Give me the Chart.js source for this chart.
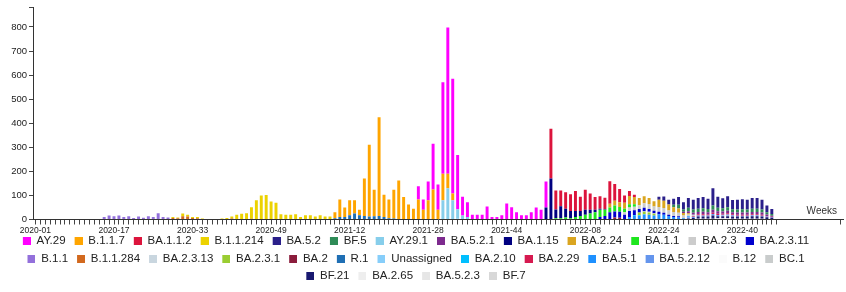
<!DOCTYPE html>
<html>
<head>
<meta charset="utf-8">
<script src="https://cdn.jsdelivr.net/npm/chart.js@4.4.1/dist/chart.umd.min.js"></script>
<style>
  html, body { margin: 0; padding: 0; background: #fff; }
</style>
</head>
<body>
<canvas id="lineageChart" width="846" height="292"></canvas>
<script>
// x axis: ISO weeks, 2022 stops at week 47, then some empty room on the right
const years = [2020, 2021, 2022];
const weeksInYear = [53, 52, 47];
const blankWeeks = 13;

const labels = [];
years.forEach((y, k) => {
    for (let w = 1; w <= weeksInYear[k]; w++) labels.push(y + '-' + String(w).padStart(2, '0'));
});
const realWeeks = labels.length;
for (let k = 0; k < blankWeeks; k++) labels.push('');

// weekly counts, given as (first week index, counts...)
const pad = (from, counts) => labels.map((_, i) => (i >= from && i < from + counts.length) ? counts[i - from] : 0);

const ay29     = pad(78, [55, 43, 78, 190, 105, 380, 608, 477, 225, 78, 62, 20, 20, 20, 54, 10, 10, 18, 66, 51, 30, 18, 18, 30, 50, 40, 108]);
const b117     = pad(61, [25, 73, 40, 62, 55, 22, 155, 299, 110, 410, 93, 78, 120, 162, 93, 62, 45, 83, 40, 80, 125, 40, 110, 60, 28]);
const ba112    = pad(105, [207, 78, 65, 68, 70, 83, 60, 84, 68, 53, 52, 47, 94, 70, 55, 30, 20, 10]);
const b11214   = pad(28, [4, 3, 11, 8, 4, 5, 2, 0, 0, 2, 4, 6, 8, 18, 22, 24, 48, 80, 100, 102, 75, 70, 22, 20, 20, 22, 10, 18, 18, 12, 18, 12, 12]);
const ba52     = pad(127, [13, 18, 20, 25, 32, 30, 40, 40, 44, 46, 42, 72, 46, 41, 46, 38, 40, 41, 40, 44, 44, 40, 28, 21]);
const bf5      = pad(130, [10, 15, 10, 15, 14, 14, 15, 14, 18, 15, 14, 15, 13, 13, 14, 13, 14, 14, 13, 9, 7]);
const ay291    = pad(83, [80, 130, 80, 40, 15, 10]);
const ba521    = pad(132, [5, 8, 8, 9, 10, 9, 12, 10, 9, 10, 8, 9, 9, 9, 9, 9, 9, 6, 5]);
const ba115    = pad(104, [50, 170, 37, 50, 37, 30, 25, 20, 20, 15, 10, 5, 3]);
const ba224    = pad(117, [15, 20, 20, 25, 35, 30, 30, 30, 25, 22, 30, 30, 25, 20, 18, 10, 5]);
const ba11     = pad(106, [5, 5, 8, 5, 10, 15, 20, 25, 30, 30, 25, 20, 25, 20, 15, 13, 10]);
const ba23     = pad(120, [10, 15, 15, 15, 18, 20, 18, 20, 20, 17, 16, 15, 12, 8, 5]);
const ba2311   = pad(115, [10, 15, 30, 25, 25, 20, 25, 20, 15, 15, 12, 10, 10, 8, 5, 5, 5]);
const b11      = pad(14, [10, 17, 14, 17, 10, 14, 4, 10, 7, 14, 10, 26, 10, 8]);
const b11284   = pad(28, [6, 5, 14, 12, 6, 5, 2, 0, 0, 0, 0, 0, 4, 2, 2, 2, 3]);
const ba2313   = pad(124, [2, 3, 2]);
const ba231    = pad(123, [11, 10, 9, 7]);
const ba2      = pad(118, [8, 7]);
const r1       = pad(61, [5, 10, 10, 18, 25, 18, 15, 12, 14, 15, 10, 5, 4]);
const unassigned = pad(86, [3, 2]);
const ba210    = pad(122, [3, 3, 2]);
const ba229    = pad(134, [4, 5, 5, 4, 5, 5, 4, 5, 4, 4, 4, 4, 4, 4, 4, 3, 2]);
const ba51     = pad(121, [10, 15, 15, 20, 20, 15, 20, 20, 15, 10, 8, 5, 4]);
const ba5212   = pad(133, [5, 5, 5, 5, 5, 6, 5, 4, 5, 4, 4, 4, 4, 5, 5, 4, 3, 2]);
const b12      = pad(20, [2, 2]);
const bc1      = pad(140, [2, 2, 2]);
const bf21     = pad(133, [4, 6, 9, 9, 9, 14, 9, 9, 9, 9, 9, 9, 9, 10, 10, 9, 7, 5]);
const ba265    = pad(126, [2, 2]);
const ba523    = pad(139, [2, 2, 2]);
const bf7      = pad(135, [3, 3, 3, 3, 3, 3, 3, 3, 3, 3, 3, 3, 3, 3, 2, 2]);

const lineages = ['AY.29', 'B.1.1.7', 'BA.1.1.2', 'B.1.1.214', 'BA.5.2', 'BF.5', 'AY.29.1', 'BA.5.2.1', 'BA.1.15',
    'BA.2.24', 'BA.1.1', 'BA.2.3', 'BA.2.3.11', 'B.1.1', 'B.1.1.284', 'BA.2.3.13', 'BA.2.3.1', 'BA.2', 'R.1',
    'Unassigned', 'BA.2.10', 'BA.2.29', 'BA.5.1', 'BA.5.2.12', 'B.12', 'BC.1', 'BF.21', 'BA.2.65', 'BA.5.2.3', 'BF.7'];
const counts = [ay29, b117, ba112, b11214, ba52, bf5, ay291, ba521, ba115, ba224, ba11, ba23, ba2311, b11, b11284,
    ba2313, ba231, ba2, r1, unassigned, ba210, ba229, ba51, ba5212, b12, bc1, bf21, ba265, ba523, bf7];
const colors = ['#ff00ff', '#ffa500', '#dc143c', '#ecd200', '#2a1f8a', '#2e8b57', '#87ceeb', '#7d2a8e', '#000080',
    '#daa520', '#1ee61e', '#cccccc', '#0000cd', '#9370db', '#d2691e', '#c9d6df', '#9acd32', '#8b1c3c', '#1f6fb4',
    '#87cefa', '#00bfff', '#d61a50', '#1e90ff', '#6495ed', '#fbfbfb', '#c9cccc', '#191970', '#eeeeee', '#e6e6e6', '#d8d8d8'];

// small square legend swatch, sitting at the right of its slot
function swatch(color) {
    const c = document.createElement('canvas');
    c.width = 11; c.height = 8;
    const g = c.getContext('2d');
    g.fillStyle = color;
    g.fillRect(3, 0, 8, 8);
    return c;
}
const swatches = colors.map(swatch);

// the week labels hang a little into the legend band, so widen the x box after layout
// and nudge the legend a bit to the left
const layoutTweaks = {
    id: 'layoutTweaks',
    afterLayout(chart) {
        const x = chart.scales.x;
        x.bottom += 10;
        x.height += 10;
        chart.legend.left -= 7;
        chart.legend.right -= 7;
    }
};

const weeksLabel = {
    id: 'weeksLabel',
    afterDraw(chart) {
        const { ctx, chartArea } = chart;
        ctx.save();
        ctx.font = '10px "Liberation Sans", Arial, sans-serif';
        ctx.fillStyle = '#333';
        ctx.textAlign = 'right';
        ctx.textBaseline = 'bottom';
        ctx.fillText('Weeks', chartArea.right - 6, chartArea.bottom - 3);
        ctx.restore();
    }
};

Chart.defaults.font.family = '"Liberation Sans", Arial, sans-serif';

const ctx = document.getElementById('lineageChart').getContext('2d');
const lineageChart = new Chart(ctx, {
    type: 'bar',
    data: {
        labels: labels,
        datasets: lineages.map((name, i) => ({
            label: name,
            data: counts[i],
            backgroundColor: colors[i],
            borderWidth: 0,
            order: lineages.length - i,
            barPercentage: 0.6,
            categoryPercentage: 1.0
        }))
    },
    options: {
        responsive: false,
        animation: false,
        layout: { padding: { top: 7, right: 3, left: 0, bottom: 0 } },
        plugins: {
            tooltip: { enabled: false },
            legend: {
                position: 'bottom',
                labels: {
                    usePointStyle: true,
                    pointStyleWidth: 11,
                    padding: 6,
                    color: '#222',
                    font: { size: 11.5 },
                    sort: (a, b) => a.datasetIndex - b.datasetIndex,
                    generateLabels(chart) {
                        const items = Chart.defaults.plugins.legend.labels.generateLabels(chart);
                        items.forEach(it => { it.pointStyle = swatches[it.datasetIndex]; it.lineWidth = 0; });
                        return items;
                    }
                }
            }
        },
        scales: {
            x: {
                stacked: true,
                offset: true,
                border: { color: '#333' },
                grid: {
                    drawOnChartArea: false,
                    offset: false,
                    tickLength: 5,
                    color: c => (c.index < realWeeks || c.index === labels.length - 1) ? '#444' : 'rgba(0,0,0,0)'
                },
                ticks: {
                    autoSkip: false,
                    maxRotation: 0,
                    minRotation: 0,
                    padding: 1,
                    color: '#222',
                    font: { size: 8.5 },
                    callback: (v, i) => (i < realWeeks && i % 16 === 0) ? labels[i] : ''
                },
                afterFit: s => { s.height = 10; }
            },
            y: {
                stacked: true,
                min: 0,
                max: 880,
                border: { color: '#333' },
                grid: { drawOnChartArea: false, tickLength: 4, color: '#444' },
                ticks: {
                    stepSize: 100,
                    padding: 2,
                    color: '#222',
                    font: { size: 9.5 },
                    callback: v => v <= 800 ? v : ''
                },
                afterFit: s => { s.width = 33; }
            }
        }
    },
    plugins: [layoutTweaks, weeksLabel]
});
</script>
</body>
</html>
